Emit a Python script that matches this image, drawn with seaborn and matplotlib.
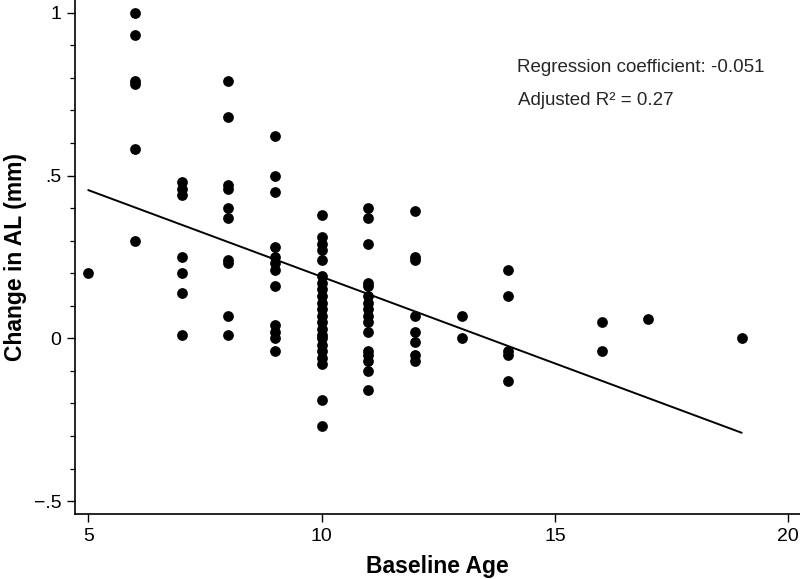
import matplotlib
matplotlib.use("Agg")
import matplotlib.pyplot as plt
from matplotlib.ticker import MultipleLocator, FuncFormatter
import numpy as np
import pandas as pd
import seaborn as sns


# -------------------------------------------------------------------------------------------
# Data: change in axial length (mm) per baseline age

ages = [5, 6, 7, 8, 9, 10, 11, 12, 13, 14, 16, 17, 19]

change_5 = [0.20]
change_6 = [1.00, 0.93, 0.79, 0.78, 0.58, 0.30]
change_7 = [0.48, 0.46, 0.44, 0.25, 0.20, 0.14, 0.01]
change_8 = [0.79, 0.68, 0.47, 0.46, 0.40, 0.37, 0.24, 0.23, 0.07, 0.01]
change_9 = [0.62, 0.50, 0.45, 0.28, 0.25, 0.23, 0.21, 0.16, 0.04, 0.02, 0.00, -0.04]
change_10 = [0.38, 0.31, 0.29, 0.27, 0.24, 0.19, 0.17, 0.15, 0.13, 0.11, 0.09,
             0.07, 0.05, 0.03, 0.01, 0.00, -0.02, -0.04, -0.06, -0.08, -0.19, -0.27]
change_11 = [0.40, 0.37, 0.29, 0.17, 0.16, 0.13, 0.11, 0.09, 0.07, 0.05, 0.02,
             -0.04, -0.05, -0.07, -0.10, -0.16]
change_12 = [0.39, 0.25, 0.24, 0.07, 0.02, -0.01, -0.05, -0.07]
change_13 = [0.07, 0.00]
change_14 = [0.21, 0.13, -0.04, -0.05, -0.13]
change_16 = [0.05, -0.04]
change_17 = [0.06]
change_19 = [0.00]

groups = [change_5, change_6, change_7, change_8, change_9, change_10, change_11,
          change_12, change_13, change_14, change_16, change_17, change_19]

coef_text = "Regression coefficient: -0.051"
r2_text = "Adjusted R\u00b2 = 0.27"

df = pd.DataFrame({
    "age": np.concatenate([[a] * len(g) for a, g in zip(ages, groups)]),
    "change": np.concatenate(groups),
})


# -------------------------------------------------------------------------------------------
# Style

sns.set_style("ticks")
plt.rcParams["font.family"] = ["Liberation Sans", "DejaVu Sans"]


# -------------------------------------------------------------------------------------------
# Plot

fig = plt.figure(figsize=(8, 5.79), dpi=100)
ax = fig.add_axes([0.094, 0.1114, 0.906, 0.8886])

sns.regplot(
    data=df, x="age", y="change", ax=ax, ci=None, truncate=True,
    scatter_kws={"s": 60, "color": "black", "alpha": 1, "linewidths": 0},
    line_kws={"color": "black", "linewidth": 1.4},
)

ax.set_xlim(4.72, 20.25)
ax.set_ylim(-0.541, 1.039)
ax.set_xticks([5, 10, 15, 20])
ax.set_yticks([-0.5, 0, 0.5, 1])
ax.yaxis.set_minor_locator(MultipleLocator(0.1))


def fmt_y(v, pos):
    if abs(v) < 1e-9:
        return "0"
    if abs(v - 1) < 1e-9:
        return "1"
    return ("\u2212" if v < 0 else "") + ".5"


ax.yaxis.set_major_formatter(FuncFormatter(fmt_y))
ax.tick_params(axis="both", which="major", direction="out", length=6, width=1.0,
               pad=4, labelsize=14, color="black", labelcolor="black")
ax.tick_params(axis="y", which="minor", direction="out", length=3.5, width=0.9, color="black")

for side in ["top", "right"]:
    ax.spines[side].set_visible(False)
for side in ["left", "bottom"]:
    ax.spines[side].set_linewidth(1.2)
    ax.spines[side].set_color("black")

ax.set_xlabel("Baseline Age", fontsize=16.5, fontweight="bold", labelpad=7, color="black")
ax.set_ylabel("Change in AL (mm)", fontsize=16.5, fontweight="bold", labelpad=5, color="black")

ax.text(14.19, 0.832, coef_text, fontsize=13.5, va="center", ha="left")
ax.text(14.21, 0.73, r2_text, fontsize=13.5, va="center", ha="left")

fig.savefig("out.png", dpi=100)
print("Saved: out.png")
